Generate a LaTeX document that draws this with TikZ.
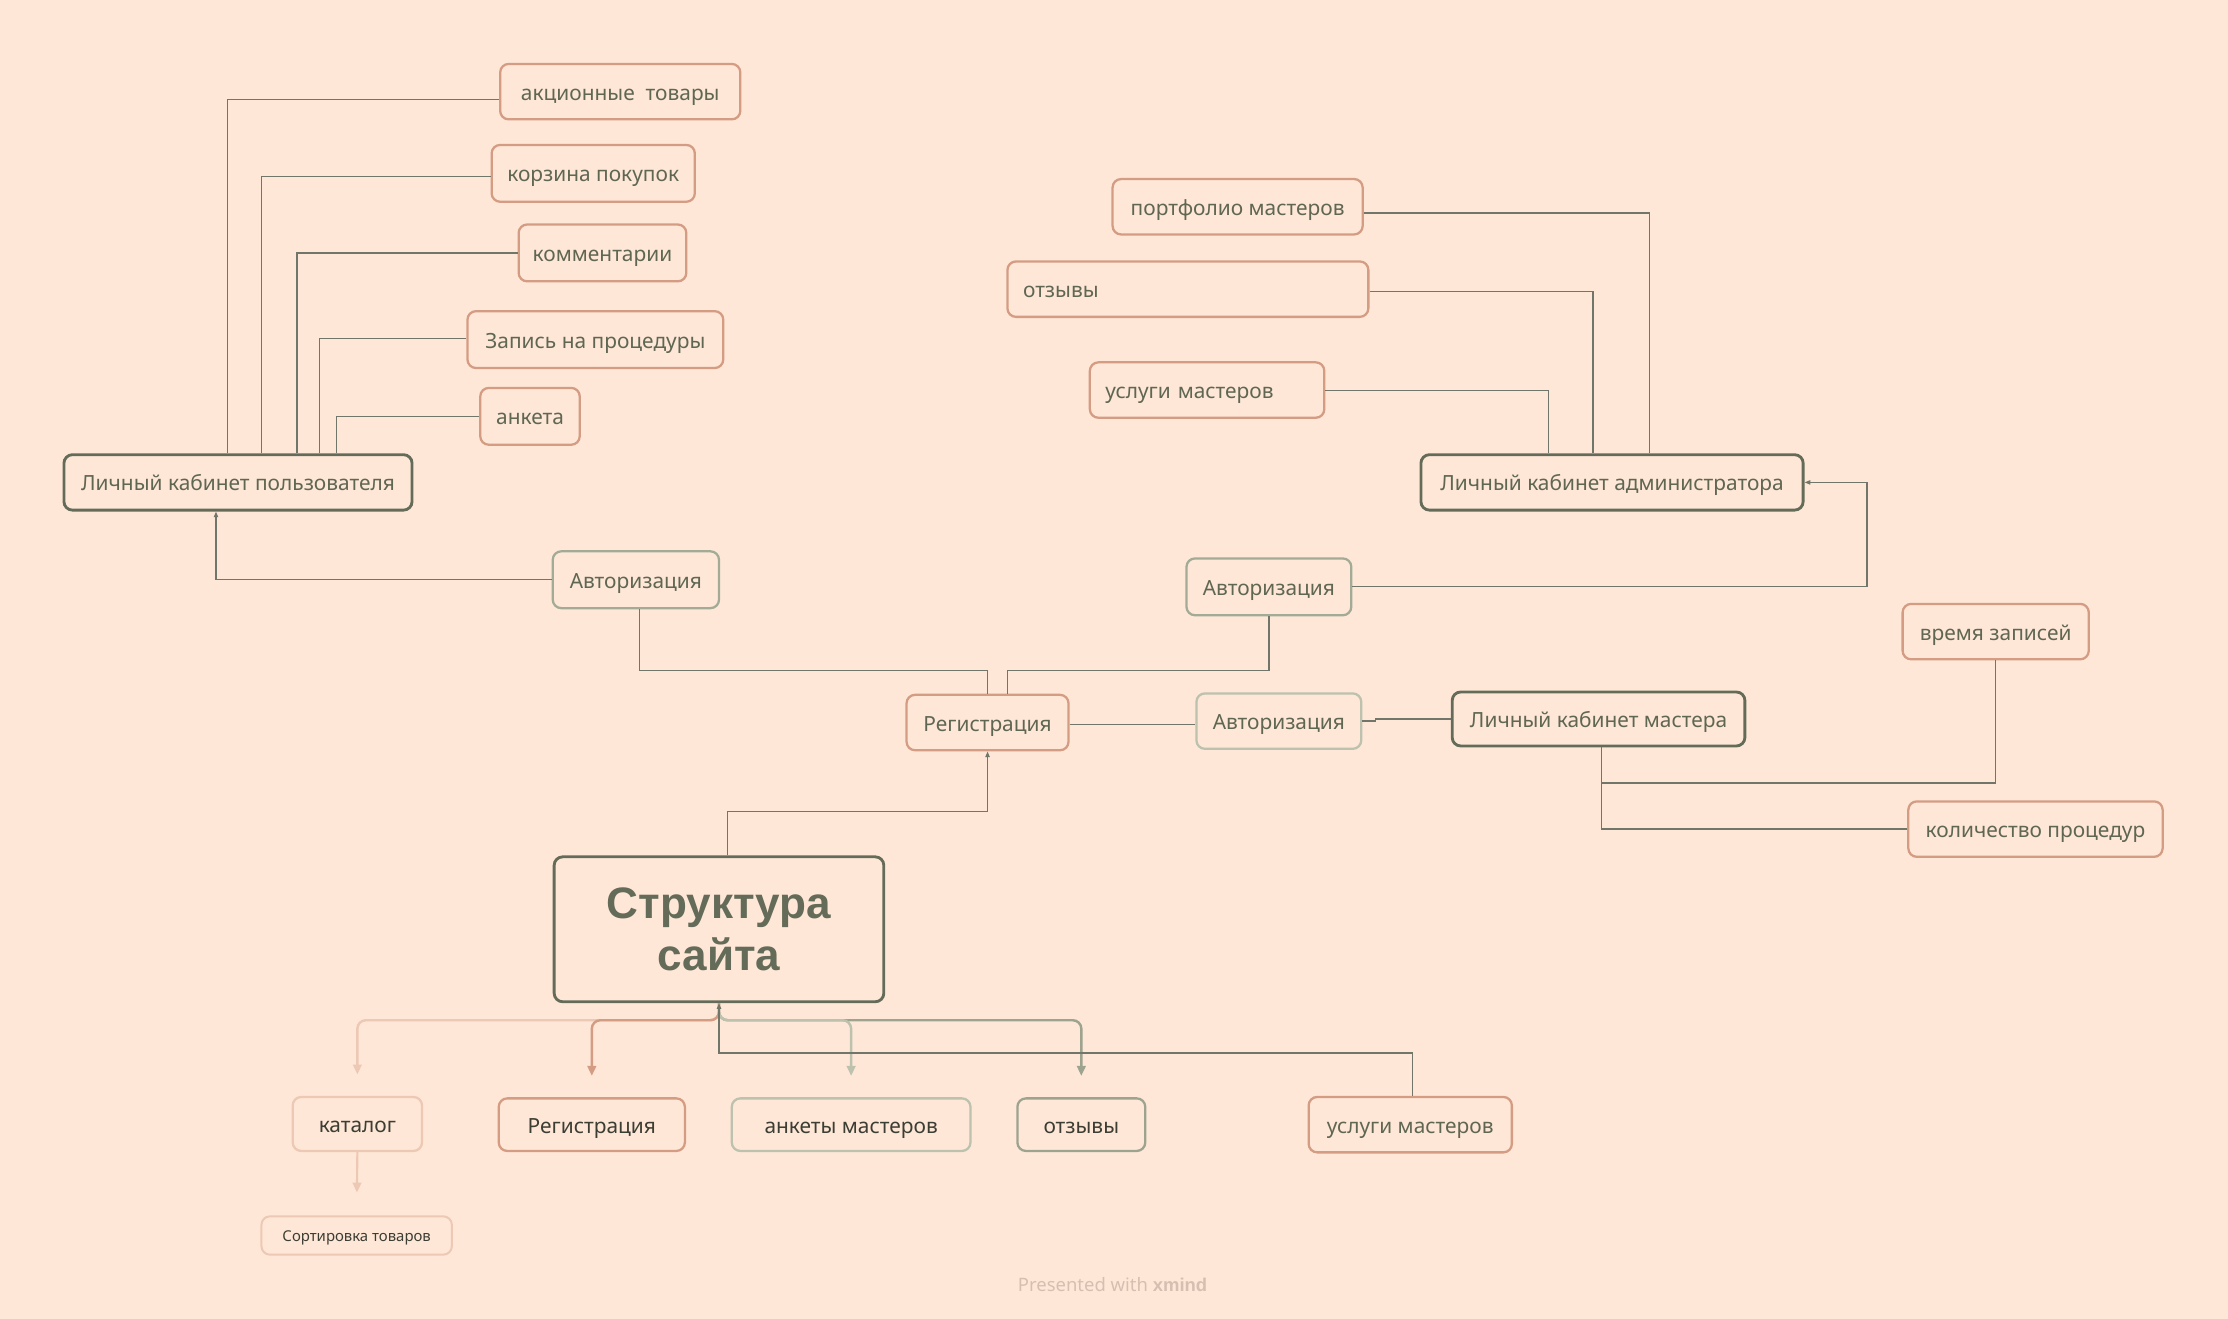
\documentclass[tikz,border=0pt]{standalone}
\usepackage{fontspec}
\setmainfont{Noto Sans}
\newfontfamily\boldfont{Liberation Sans}
\usetikzlibrary{arrows.meta,calc}
\definecolor{bg}{HTML}{FEE7D7}
\definecolor{dark}{HTML}{646B58}
\definecolor{txt}{HTML}{5F6652}
\definecolor{txtd}{HTML}{3C3D33}
\definecolor{salm}{HTML}{D39C83}
\definecolor{lsalm}{HTML}{EDC8B4}
\definecolor{gg}{HTML}{A3AA95}
\definecolor{lg}{HTML}{BCC2AE}
\definecolor{mg}{HTML}{9CA38E}
\definecolor{conc}{HTML}{70776A}
\definecolor{foot}{HTML}{D6BFB1}
\begin{document}
\begin{tikzpicture}[x=1pt,y=-1pt,
  box/.style={draw, rounded corners=6pt, line width=1.6pt, inner sep=0pt, text=txt,
    text height=12pt, text depth=0pt,
    font=\fontsize{14.7}{17}\selectfont},
  darkbox/.style={box, draw=dark, line width=2pt},
  salbox/.style={box, draw=salm},
  ggbox/.style={box, draw=gg},
  lgbox/.style={box, draw=lg},
  conn/.style={draw=conc, line width=0.9pt},
  tip/.style={-{Triangle[length=4pt,width=3pt]}},
  fan/.style={line width=1.7pt, rounded corners=6pt, -{Triangle[length=7pt,width=6pt]}, shorten >=15pt},
  sz/.style 2 args={minimum width=#1pt, minimum height=#2pt}
]
\fill[bg] (0,0) rectangle (1568,928);
\useasboundingbox (0,0) rectangle (1568,928);

% user cabinet branch
\node[salbox, sz={169}{39}] (akc) at (436.5,64.5) {акционные\ \ товары};
\node[salbox, sz={143}{40}] (korz) at (417.5,122) {корзина покупок};
\node[salbox, sz={118}{40}] (komm) at (424,178) {комментарии};
\node[salbox, sz={180}{40}] (zap) at (419,239) {Запись на процедуры};
\node[salbox, sz={70}{40}] (anketa) at (373,293) {анкета};
\node[darkbox, sz={245}{39}] (upk) at (167.5,339.5) {Личный кабинет пользователя};
\node[ggbox, sz={117}{40}] (avL) at (447.5,408) {Авторизация};

% admin branch
\node[salbox, sz={176}{39}] (port) at (871,145.5) {портфолио мастеров};
\node[salbox, minimum height=39pt, text width=232pt, inner xsep=11pt, align=left] (otzT) at (836,203.5) {отзывы};
\node[salbox, minimum height=39pt, text width=143pt, inner xsep=11pt, align=left] (uslT) at (849.5,274.5) {услуги мастеров};
\node[darkbox, sz={269}{39}] (adm) at (1134.5,339.5) {Личный кабинет администратора};
\node[ggbox, sz={116}{40}] (avR) at (893,413) {Авторизация};

% middle
\node[salbox, sz={114}{39}] (reg) at (695,508.5) {Регистрация};
\node[lgbox, sz={116}{39}] (avM) at (900,507.5) {Авторизация};
\node[darkbox, sz={206}{38}] (mas) at (1125,506) {Личный кабинет мастера};
\node[salbox, sz={131}{39}] (vrem) at (1404.5,444.5) {время записей};
\node[salbox, sz={179}{39}] (kol) at (1432.5,583.5) {количество процедур};

% central topic
\node[darkbox, sz={232}{102}, align=center, text=dark, text height=, text depth=,
  font=\boldfont\bfseries\fontsize{31}{37}\selectfont] (struct) at (506,654) {Структура\\сайта};

% bottom row
\node[box, draw=lsalm, text=txtd, sz={91}{38}] (kat) at (251.5,791) {каталог};
\node[salbox, text=txtd, sz={131}{37}] (regB) at (416.5,791.5) {Регистрация};
\node[lgbox, text=txtd, sz={168}{37}] (ankB) at (599,791.5) {анкеты мастеров};
\node[box, draw=mg, text=txtd, sz={90}{37}] (otzB) at (761,791.5) {отзывы};
\node[salbox, sz={143}{39}] (uslB) at (992.5,791.5) {услуги мастеров};
\node[box, draw=lsalm, text=txtd, line width=1.4pt, sz={134}{27}, text height=8.5pt,
  font=\fontsize{10.5}{12}\selectfont] (sort) at (251,869.5) {Сортировка товаров};

\node[text=foot, font=\fontsize{13}{15}\selectfont] (footer) at (783,904) {Presented with {\boldfont\bfseries xmind}};

% connectors: user cabinet
\draw[conn] (upk.north -| 160,0) |- ([yshift=-5.5pt]akc.west);
\draw[conn] (upk.north -| 184,0) |- ([yshift=-2.4pt]korz.west);
\draw[conn] (upk.north -| 209,0) |- (komm.west);
\draw[conn] (upk.north -| 225,0) |- ([yshift=1pt]zap.west);
\draw[conn] (upk.north -| 237,0) |- (anketa.west);
\draw[conn, tip] (avL.west) -| (upk.south -| 152,0);
\draw[conn] ([xshift=2.5pt]avL.south) -- ++(0,43) -| (reg.north);

% admin
\draw[conn] (avR.south) -- ++(0,38) -| ([xshift=14pt]reg.north);
\draw[conn, tip] (avR.east) -| ([xshift=44pt]adm.east) -- (adm.east);
\draw[conn] ([yshift=-4.5pt]port.east) -| (adm.north -| 1161,0);
\draw[conn] ([yshift=-1.5pt]otzT.east) -| (adm.north -| 1121,0);
\draw[conn] ([yshift=-0.5pt]uslT.east) -| (adm.north -| 1090,0);

% middle
\draw[conn] ([yshift=-1.5pt]reg.east) -- ([yshift=-2.5pt]avM.west);
\draw[conn] (avM.east) -- ++(9,0) |- (mas.west);
\draw[conn] (vrem.south) |- (1127,551) -- ([xshift=2pt]mas.south);
\draw[conn] (kol.west) -| ([xshift=2pt]mas.south);
\draw[conn, tip] ([xshift=6pt]struct.north) -- ++(0,-31) -| (reg.south);

% bottom fan
\draw[fan, draw=lsalm] (struct.south) -- ++(0,12) -| (kat.north);
\draw[fan, draw=mg] (struct.south) -- ++(0,12) -| (otzB.north);
\draw[fan, draw=lg] (struct.south) -- ++(0,12) -| (ankB.north);
\draw[fan, draw=salm] (struct.south) -- ++(0,12) -| (regB.north);
\draw[conn, tip] ([xshift=1.5pt]uslB.north) |- (506,741) -- (struct.south);
\draw[line width=1.5pt, draw=lsalm, -{Triangle[length=7pt,width=6pt]}, shorten >=16pt] (kat.south) -- (sort.north);
\end{tikzpicture}
\end{document}
